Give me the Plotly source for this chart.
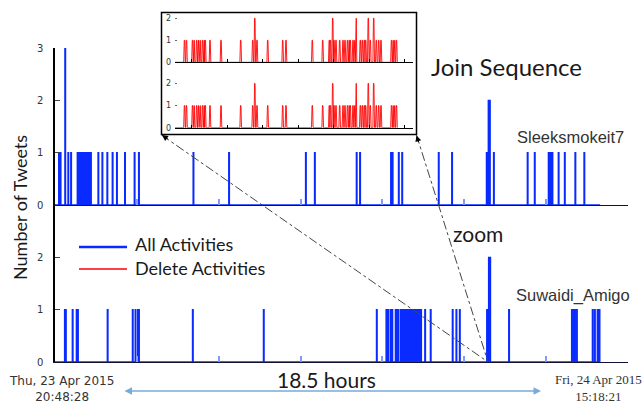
import plotly.graph_objects as go

W, H = 643, 405

# ---------------- data ----------------
top_account = "Sleeksmokeit7"
bottom_account = "Suwaidi_Amigo"

# hours since Thu, 23 Apr 2015 20:48:28 ; tweets per time bin
top_hours = [0.13, 0.18, 0.33, 0.43, 0.52, 0.73, 0.76, 0.79, 0.82, 0.86, 0.89, 0.94,
             0.97, 1.00, 1.03, 1.07, 1.11, 1.16, 1.40, 1.53, 1.69, 1.86, 2.00, 2.26,
             2.57, 2.71, 4.47, 5.62, 8.10, 8.39, 9.74, 9.85, 10.85, 10.90, 11.10,
             11.21, 12.39, 12.82, 13.94, 14.00, 14.04, 14.17, 15.26, 15.49, 15.94,
             16.00, 16.06, 16.26, 16.46, 16.80, 17.09]
top_counts = [1, 1, 3, 1, 1, 1, 1, 1, 1, 1, 1, 1,
              1, 1, 1, 1, 1, 1, 1, 1, 1, 1, 1, 1,
              1, 1, 1, 1, 1, 1, 1, 1, 1, 1, 1,
              1, 1, 1, 1, 2, 2, 1, 1, 1, 1,
              1, 1, 1, 1, 1, 1]

bottom_hours = [0.32, 0.35, 0.57, 0.70, 0.74, 1.70, 2.51, 2.60, 2.68, 2.71, 4.45, 6.74,
                10.39, 10.70, 10.76, 10.84, 10.89, 11.00, 11.04, 11.09, 11.17, 11.20,
                11.24, 11.27, 11.30, 11.33, 11.36, 11.40, 11.43, 11.46, 11.49, 11.53,
                11.56, 11.59, 11.62, 11.65, 11.69, 11.72, 11.75, 11.78, 11.82, 11.95,
                12.13, 12.84, 12.96, 13.07, 13.95, 14.01, 14.05, 14.66, 16.69, 16.72,
                16.76, 16.79, 16.82, 16.85, 17.36, 17.43, 17.52, 17.58]
bottom_counts = [1, 1, 1, 1, 1, 1, 1, 1, 1, 1, 1, 1,
                 1, 1, 1, 1, 1, 1, 1, 1, 1, 1,
                 1, 1, 1, 1, 1, 1, 1, 1, 1, 1,
                 1, 1, 1, 1, 1, 1, 1, 1, 1, 1,
                 1, 1, 1, 1, 1, 2, 2, 1, 1, 1,
                 1, 1, 1, 1, 1, 1, 1, 1]

series_end_hours = 17.6
axis_span_hours = 18.5

# zoomed window (seconds) : delete activities, identical for both accounts
delete_seconds = [9.5, 11.5, 17.5, 19.0, 21.7, 23.3, 25.0, 27.5, 29.0, 30.3, 35.0, 46.0,
                  65.7, 77.7, 79.8, 82.0, 92.7, 107.7, 111.0, 137.3, 147.7, 154.3,
                  155.5, 157.7, 159.0, 161.0, 164.7, 168.0, 170.0, 172.5, 174.0, 175.3,
                  178.0, 179.5, 181.0, 185.3, 187.3, 189.3, 190.7, 193.3, 195.3, 198.7,
                  201.3, 203.7, 206.0, 216.5, 218.0, 219.5, 221.5]
delete_counts = [1, 1, 1, 1, 1, 1, 1, 1, 1, 1, 1, 1,
                 1, 1, 2, 1, 1, 1, 1, 1, 1, 1,
                 1, 2, 1, 1, 1, 1, 1, 1, 1, 1,
                 1, 1, 2, 1, 1, 1, 1, 2, 1, 2,
                 1, 1, 1, 1, 1, 1, 1]
inset_span_seconds = 238

main_yticks_top = [0, 1, 2, 3]
main_yticks_bottom = [0, 1, 2]
inset_yticks = [0, 1, 2]

start_label = "Thu, 23 Apr 2015<br>20:48:28"
end_label = "Fri, 24 Apr 2015<br>15:18:21"
span_label = "18.5 hours"
y_title = "Number of Tweets"
legend_names = ["All Activities", "Delete Activities"]

BLUE = "#0a2bff"
RED = "#ff0000"


def px(x):
    return x / W


def py(y):
    return 1 - y / H


def spike_path(ts, vs, half, end, taper=1.0):
    xs, ys = [0.0], [0.0]
    for t, v in sorted(zip(ts, vs)):
        xs += [t - half, t - half * taper, t + half * taper, t + half]
        ys += [0, v, v, 0]
    xs.append(end)
    ys.append(0)
    return xs, ys


fig = go.Figure()

tx, ty = spike_path(top_hours, top_counts, 0.01, series_end_hours)
bx, by = spike_path(bottom_hours, bottom_counts, 0.01, series_end_hours)
fig.add_trace(go.Scatter(x=tx, y=ty, xaxis="x2", yaxis="y2", mode="lines",
                         line=dict(color=BLUE, width=1.4), name=legend_names[0],
                         showlegend=False, hoverinfo="skip"))
fig.add_trace(go.Scatter(x=bx, y=by, xaxis="x", yaxis="y", mode="lines",
                         line=dict(color=BLUE, width=1.4), name=legend_names[0],
                         showlegend=False, hoverinfo="skip"))

rx, ry = spike_path(delete_seconds, delete_counts, 0.8, delete_seconds[-1] + 1, taper=0.3)
fig.add_trace(go.Scatter(x=rx, y=ry, xaxis="x3", yaxis="y3", mode="lines",
                         line=dict(color=RED, width=0.9), name=legend_names[1],
                         showlegend=False, hoverinfo="skip"))
fig.add_trace(go.Scatter(x=rx, y=ry, xaxis="x4", yaxis="y4", mode="lines",
                         line=dict(color=RED, width=0.9), name=legend_names[1],
                         showlegend=False, hoverinfo="skip"))

main_x = dict(domain=[px(55), px(628)], range=[0, axis_span_hours], showline=True,
              linecolor="#111133", linewidth=1.3, ticks="inside", ticklen=6,
              tickcolor="#7f9bff", tickwidth=1.5, tick0=0, dtick=axis_span_hours / 7,
              showticklabels=False, showgrid=False, zeroline=False, automargin=False)
main_y = dict(range=[0, 3], showline=True, linecolor="black", linewidth=1.5,
              ticks="inside", ticklen=5, tickcolor="#444", tickwidth=1,
              tickfont=dict(family="DejaVu Sans", size=10, color="#333"),
              ticklabelstandoff=8, showgrid=False, zeroline=False, automargin=False)
inset_x = dict(domain=[px(175), px(413)], range=[0, inset_span_seconds], showline=True,
               linecolor="black", linewidth=1, ticks="inside", ticklen=3,
               tickcolor="black", tick0=16.7, dtick=35.5, showticklabels=False,
               showgrid=False, zeroline=False, automargin=False)
inset_y = dict(showline=False, ticks="inside", ticklen=2, tickcolor="#666",
               tickvals=inset_yticks,
               tickfont=dict(family="DejaVu Sans", size=8, color="#333"),
               ticklabelstandoff=3, showgrid=False, zeroline=False, automargin=False)

fig.update_layout(
    width=W, height=H, margin=dict(l=0, r=0, t=0, b=0, pad=0, autoexpand=False),
    paper_bgcolor="white", plot_bgcolor="rgba(0,0,0,0)", showlegend=False,
    xaxis=dict(main_x, anchor="y"),
    xaxis2=dict(main_x, anchor="y2", matches="x"),
    yaxis=dict(main_y, domain=[py(362), py(205)], anchor="x", tickvals=main_yticks_bottom),
    yaxis2=dict(main_y, domain=[py(205), py(48)], anchor="x2", tickvals=main_yticks_top),
    xaxis3=dict(inset_x, anchor="y3"),
    xaxis4=dict(inset_x, anchor="y4", matches="x3"),
    yaxis3=dict(inset_y, domain=[py(62.3), py(12.5)], range=[0, 2.26], anchor="x3"),
    yaxis4=dict(inset_y, domain=[py(127.7), py(63.5)], range=[0, 2.9], anchor="x4"),
)

# inset frame
fig.add_shape(type="rect", xref="paper", yref="paper", x0=px(161.5), x1=px(416.5),
              y0=py(134.5), y1=py(12.5), line=dict(color="black", width=1.5),
              fillcolor="rgba(0,0,0,0)", layer="above")
# zoom connector lines
for cx in (161.5, 416.5):
    fig.add_shape(type="line", xref="paper", yref="paper", x0=px(cx), y0=py(135),
                  x1=px(488), y1=py(362), line=dict(color="#444", width=1, dash="dashdot"))
fig.add_annotation(x=px(162), y=py(135), xref="paper", yref="paper", text="",
                   showarrow=True, ax=7, ay=5, arrowhead=2, arrowsize=1, arrowwidth=1.2,
                   arrowcolor="black")
fig.add_annotation(x=px(416.5), y=py(135.5), xref="paper", yref="paper", text="",
                   showarrow=True, ax=2.5, ay=8, arrowhead=2, arrowsize=1, arrowwidth=1.2,
                   arrowcolor="black")

# legend (manual)
fig.add_shape(type="line", xref="paper", yref="paper", x0=px(79), x1=px(127),
              y0=py(247), y1=py(247), line=dict(color=BLUE, width=2.5))
fig.add_shape(type="line", xref="paper", yref="paper", x0=px(79), x1=px(127),
              y0=py(269), y1=py(269), line=dict(color=RED, width=1.5))


def text(x, y, s, size, family="Lato", color="#1a1a1a", xanchor="center", **kw):
    fig.add_annotation(x=px(x), y=py(y), xref="paper", yref="paper", text=s,
                       showarrow=False, xanchor=xanchor, yanchor="middle",
                       font=dict(family=family, size=size, color=color), **kw)


text(133, 244, legend_names[0], 18, xanchor="left")
text(133, 268, legend_names[1], 18, xanchor="left")
text(506, 67, "Join Sequence", 24)
text(478, 233, "zoom", 21)
text(326, 379, span_label, 21)
text(20, 208, y_title, 18, textangle=-90)
text(570, 137, top_account, 16.5, family="Liberation Sans", color="#333")
text(573, 295, bottom_account, 16.5, family="Liberation Sans", color="#333")
text(61, 389, start_label, 12, family="DejaVu Sans", color="#333")
text(598, 388, end_label, 13, family="Liberation Serif", color="#333")

# 18.5 hours double arrow
fig.add_annotation(x=px(541), y=py(391), xref="paper", yref="paper", text="",
                   showarrow=True, ax=-(541 - 123), ay=0, axref="pixel", ayref="pixel",
                   arrowhead=2, arrowside="end+start", arrowsize=1, arrowwidth=1.5,
                   arrowcolor="#7aaad8", standoff=0, startstandoff=0)

fig.write_html("out.html", config={"displayModeBar": False},
               post_script="document.body.style.margin='0';document.body.style.overflow='hidden';")
